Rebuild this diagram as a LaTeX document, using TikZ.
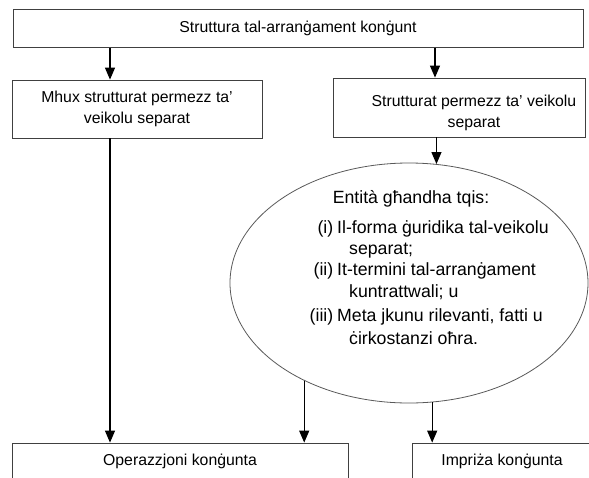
\documentclass[tikz,border=0pt]{standalone}
\usepackage{fontspec}
\setmainfont{Liberation Sans}
\usetikzlibrary{arrows.meta,shapes.geometric}
\begin{document}
\begin{tikzpicture}[x=1pt,y=-1pt,
  box/.style={draw=black!75, line width=0.8pt, rectangle, inner sep=0pt, font=\fontsize{15.8}{21}\selectfont, align=center},
  txt/.style={inner sep=0pt, font=\fontsize{15.8}{21}\selectfont, align=center},
  etxt/.style={inner sep=0pt, font=\fontsize{17.7}{21.5}\selectfont},
  elab/.style={etxt, anchor=base east},
  eline/.style={etxt, anchor=base west},
  arr/.style={line width=1.2pt, -{Triangle[width=10pt,length=12pt]}}]
\clip (0,0) rectangle (589,477);
% boxes
\node[box, minimum width=570pt, minimum height=38pt] (top) at (298,28.5) {Struttura tal-arranġament konġunt};
\node[box, minimum width=250pt, minimum height=58pt] (lbox) at (137,109) {Mhux strutturat permezz ta’\\veikolu separat};
\node[box, minimum width=252pt, minimum height=59pt] (rbox) at (459,107.5) {};
\node[txt] (rtext) at (474,112.5) {Strutturat permezz ta’ veikolu\\separat};
\node[draw=black!65, line width=0.8pt, ellipse, minimum width=358pt, minimum height=240pt, inner sep=0pt] (ell) at (409,283) {};
\node[box, minimum width=336pt, minimum height=36pt] (opb) at (180,461) {Operazzjoni konġunta};
\node[box, minimum width=180pt, minimum height=36pt] (imp) at (502,461) {Impriża konġunta};
% ellipse text
\node[etxt, anchor=base] (etitle) at (411,203.5) {Entità għandha tqis:};
\node[elab] (l1) at (333.5,233.5) {(i)};
\node[eline] (t1a) at (337,233.5) {Il-forma ġuridika tal-veikolu};
\node[eline] (t1b) at (349,254.5) {separat;};
\node[elab] (l2) at (333.5,275.5) {(ii)};
\node[eline] (t2a) at (337,275.5) {It-termini tal-arranġament};
\node[eline] (t2b) at (349,297.5) {kuntrattwali; u};
\node[elab] (l3) at (333.5,321.5) {(iii)};
\node[eline] (t3a) at (337,321.5) {Meta jkunu rilevanti, fatti u};
\node[eline] (t3b) at (349,344.5) {ċirkostanzi oħra.};
% connectors
\coordinate (xa) at (110,0);
\coordinate (xb) at (435,0);
\draw[arr] (top.south -| xa) -- (lbox.north -| xa);
\draw[arr] (top.south -| xb) -- (rbox.north -| xb);
\draw[arr] (rbox.south -| ell.77.6) -- (ell.77.6);
\draw[arr] (lbox.south -| xa) -- (opb.north -| xa);
\draw[arr] (ell.223.3) -- (ell.223.3 |- opb.north);
\draw[arr] (ell.281.8) -- (ell.281.8 |- imp.north);
\end{tikzpicture}
\end{document}
